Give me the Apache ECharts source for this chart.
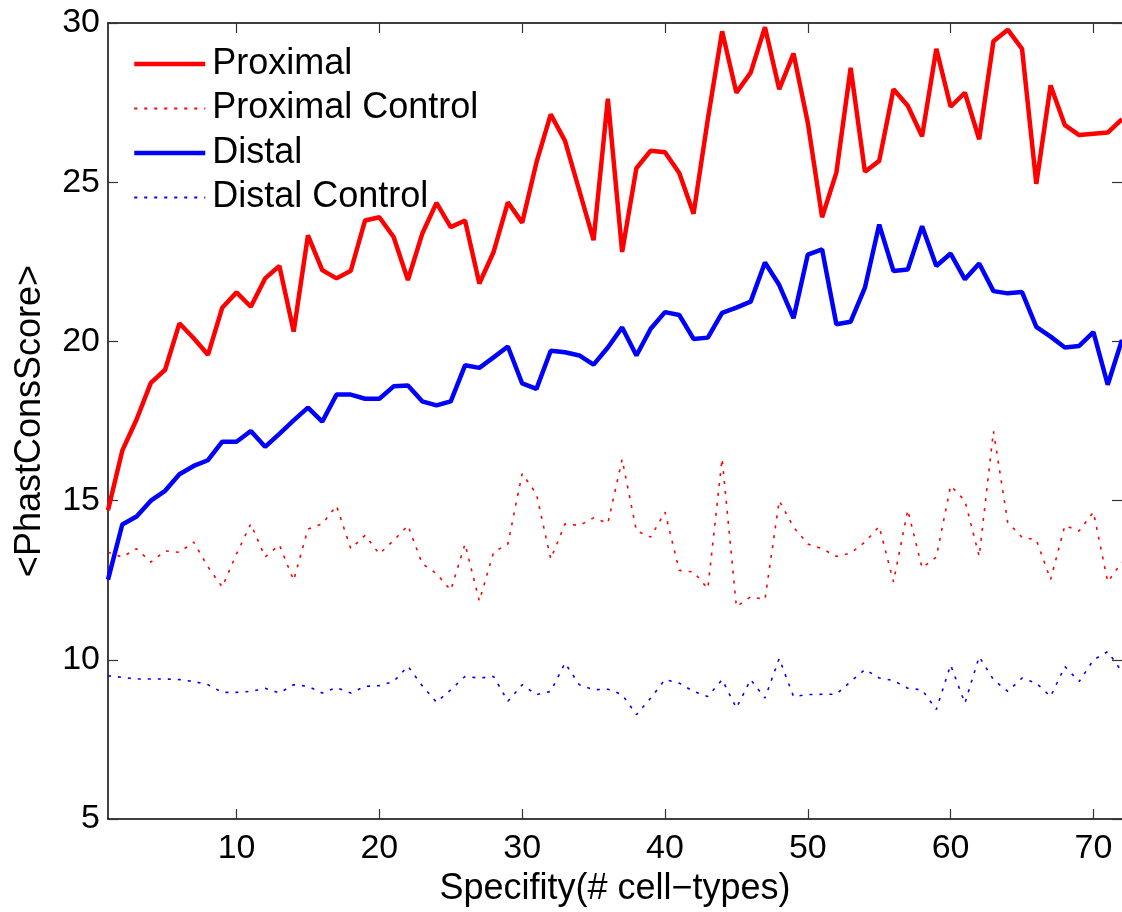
<!DOCTYPE html>
<html>
<head>
<meta charset="utf-8">
<script src="https://cdn.jsdelivr.net/npm/echarts@6/dist/echarts.min.js"></script>
<style>
html,body{margin:0;padding:0;background:#fff;}
#c{width:1122px;height:912px;}
</style>
</head>
<body>
<div id="c"></div>
<script>
const specificity = Array.from({length: 72}, (_, i) => i + 1);

const proximal = [14.7,16.57,17.55,18.7,19.11,20.57,20.1,19.58,21.06,21.54,
21.09,21.98,22.37,20.31,23.33,22.24,21.98,22.22,23.8,23.9,
23.28,21.93,23.38,24.35,23.59,23.8,21.82,22.81,24.37,23.73,
25.62,27.13,26.3,24.74,23.18,27.62,22.81,25.44,25.99,25.94,
25.29,24.01,26.98,29.74,27.81,28.44,29.87,27.92,29.04,26.87,
23.9,25.3,28.59,25.33,25.67,27.92,27.4,26.44,29.19,27.37,
27.81,26.35,29.43,29.79,29.19,24.95,28.04,26.79,26.48,26.52,
26.56,26.98];

const proximalControl = [13.38,13.23,13.49,13.07,13.42,13.38,13.7,12.92,12.29,13.33,
14.27,13.23,13.61,12.5,14.11,14.27,14.84,13.49,13.91,13.33,
13.75,14.22,13.02,12.71,12.19,13.64,11.85,13.38,13.64,15.85,
15.21,13.17,14.27,14.22,14.46,14.29,16.3,14.05,13.86,14.64,
12.81,12.76,12.24,16.32,11.67,11.98,11.9,15.0,14.17,13.64,
13.49,13.25,13.35,13.7,14.19,12.45,14.71,12.89,13.23,15.47,
15.0,13.25,17.18,14.32,13.85,13.77,12.52,14.22,14.05,14.64,
12.45,13.07];

const distal = [12.52,14.25,14.5,15.0,15.31,15.83,16.09,16.27,16.85,16.85,
17.19,16.69,17.1,17.52,17.92,17.48,18.33,18.33,18.2,18.2,
18.59,18.62,18.12,17.99,18.12,19.25,19.17,19.5,19.84,18.68,
18.51,19.71,19.66,19.56,19.27,19.81,20.44,19.56,20.4,20.92,
20.83,20.08,20.12,20.9,21.06,21.25,22.48,21.77,20.73,22.73,
22.89,20.54,20.62,21.69,23.67,22.21,22.26,23.62,22.37,22.76,
21.95,22.45,21.58,21.51,21.55,20.46,20.15,19.81,19.86,20.29,
18.64,20.05];

const distalControl = [9.5,9.45,9.4,9.4,9.4,9.38,9.32,9.22,8.98,8.98,
9.01,9.11,8.96,9.22,9.17,8.96,9.13,8.96,9.17,9.19,
9.32,9.8,9.19,8.67,9.06,9.48,9.43,9.48,8.7,9.22,
8.91,9.01,9.9,9.22,9.06,9.08,8.91,8.28,8.8,9.38,
9.27,9.01,8.85,9.38,8.49,9.38,8.8,10.04,8.85,8.91,
8.92,8.92,9.32,9.7,9.43,9.35,9.11,9.06,8.44,9.84,
8.64,10.1,9.38,9.01,9.43,9.27,8.85,9.79,9.32,10.0,
10.26,9.63];

const xTicks = [10, 20, 30, 40, 50, 60, 70];
const yTicks = [5, 10, 15, 20, 25, 30];

const pair = arr => specificity.map((x, i) => [x, arr[i]]);
const FONT = 'Liberation Sans';

const chart = echarts.init(document.getElementById('c'), null, {renderer: 'canvas'});
const axisLine = {show: true, lineStyle: {color: '#000', width: 1.5}};
const tick = {show: true, inside: true, length: 10, lineStyle: {color: '#333', width: 1.2}};
const solidW = 4.5, dotW = 1.6, dotType = [3, 7];

chart.setOption({
  animation: false,
  backgroundColor: '#fff',
  grid: {left: 108, right: 0, top: 23, bottom: 89, containLabel: false},
  legend: {
    orient: 'vertical',
    left: 127,
    top: 41,
    itemWidth: 71,
    itemHeight: 14,
    itemGap: 8.5,
    itemStyle: {opacity: 0},
    textStyle: {fontFamily: FONT, fontSize: 36, color: '#000', lineHeight: 34, padding: [0,0,0,2]},
    data: [
      {name: 'Proximal', lineStyle: {width: solidW, color: '#ff0000'}},
      {name: 'Proximal Control', lineStyle: {width: dotW + 0.4, type: dotType, color: '#ff0000'}},
      {name: 'Distal', lineStyle: {width: solidW, color: '#0000ff'}},
      {name: 'Distal Control', lineStyle: {width: dotW + 0.4, type: dotType, color: '#0000ff'}}
    ]
  },
  xAxis: [{
    type: 'value', min: 1, max: 72, position: 'bottom',
    name: 'Specifity(# cell\u2212types)', nameLocation: 'middle', nameGap: 48,
    nameTextStyle: {fontFamily: FONT, fontSize: 36, color: '#000'},
    axisLine: axisLine,
    axisTick: Object.assign({customValues: xTicks}, tick),
    axisLabel: {customValues: xTicks, fontFamily: FONT, fontSize: 34, color: '#000', margin: 13},
    splitLine: {show: false}
  }, {
    type: 'value', min: 1, max: 72, position: 'top',
    axisLine: axisLine,
    axisTick: Object.assign({customValues: xTicks}, tick),
    axisLabel: {show: false},
    splitLine: {show: false}
  }],
  yAxis: [{
    type: 'value', min: 5, max: 30, interval: 5, position: 'left',
    name: '<PhastConsScore>', nameLocation: 'middle', nameGap: 60, nameRotate: 90,
    nameTextStyle: {fontFamily: FONT, fontSize: 36, color: '#000'},
    axisLine: axisLine,
    axisTick: tick,
    axisLabel: {fontFamily: FONT, fontSize: 34, color: '#000', margin: 8},
    splitLine: {show: false}
  }, {
    type: 'value', min: 5, max: 30, interval: 5, position: 'right',
    axisLine: {show: false},
    axisTick: tick,
    axisLabel: {show: false},
    splitLine: {show: false}
  }],
  series: [
    {name: 'Proximal', type: 'line', data: pair(proximal), showSymbol: false, symbol: 'none',
     lineStyle: {color: '#ff0000', width: solidW}, itemStyle: {color: '#ff0000'}},
    {name: 'Proximal Control', type: 'line', data: pair(proximalControl), showSymbol: false, symbol: 'none',
     lineStyle: {color: '#ff0000', width: dotW, type: dotType}, itemStyle: {color: '#ff0000'}},
    {name: 'Distal', type: 'line', data: pair(distal), showSymbol: false, symbol: 'none',
     lineStyle: {color: '#0000ff', width: solidW}, itemStyle: {color: '#0000ff'}},
    {name: 'Distal Control', type: 'line', data: pair(distalControl), showSymbol: false, symbol: 'none',
     lineStyle: {color: '#0000ff', width: dotW, type: dotType}, itemStyle: {color: '#0000ff'}}
  ]
});
</script>
</body>
</html>
